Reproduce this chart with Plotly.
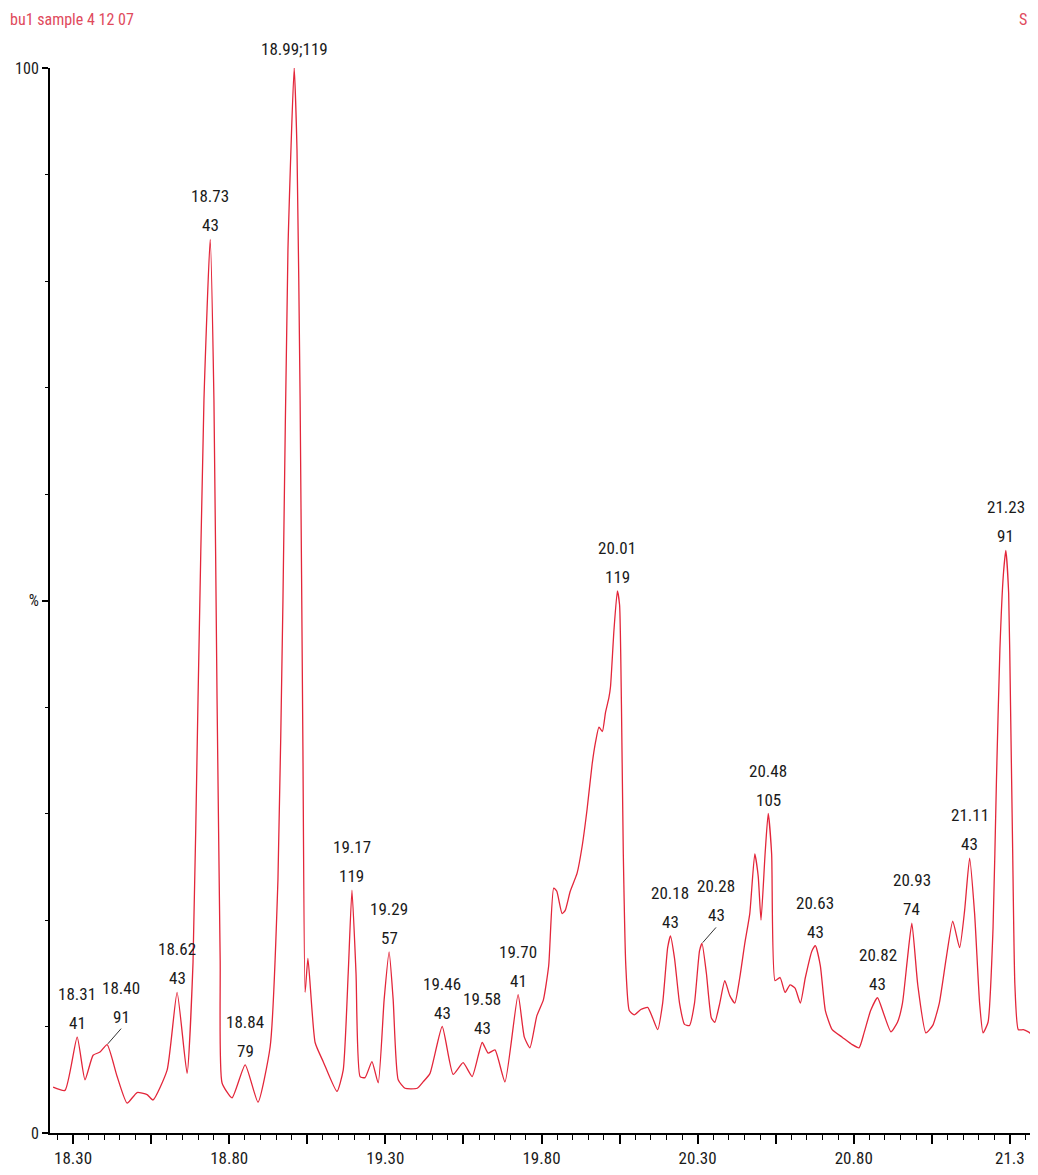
import numpy as np
import plotly.graph_objects as go

# ---------------- data ----------------
rt = [18.236, 18.274, 18.313, 18.338, 18.364, 18.386, 18.409, 18.441, 18.473, 18.505,
      18.537, 18.556, 18.601, 18.633, 18.665, 18.684, 18.700, 18.719, 18.739, 18.751,
      18.761, 18.771, 18.777, 18.809, 18.851, 18.892, 18.931, 18.956, 18.972, 18.988,
      19.008, 19.017, 19.027, 19.036, 19.043, 19.052, 19.075, 19.101, 19.145, 19.165,
      19.181, 19.193, 19.206, 19.219, 19.235, 19.257, 19.277, 19.296, 19.312, 19.325,
      19.341, 19.363, 19.402, 19.421, 19.443, 19.482, 19.517, 19.549, 19.578, 19.610,
      19.629, 19.651, 19.683, 19.725, 19.745, 19.763, 19.785, 19.806, 19.823, 19.839,
      19.849, 19.866, 19.876, 19.892, 19.914, 19.930, 19.946, 19.962, 19.973, 19.984,
      19.995, 20.005, 20.016, 20.021, 20.032, 20.043, 20.050, 20.056, 20.062, 20.070,
      20.081, 20.097, 20.118, 20.140, 20.156, 20.172, 20.188, 20.204, 20.213, 20.226,
      20.242, 20.258, 20.274, 20.290, 20.306, 20.314, 20.328, 20.344, 20.355, 20.371,
      20.387, 20.403, 20.419, 20.435, 20.451, 20.467, 20.483, 20.494, 20.503, 20.516,
      20.526, 20.537, 20.548, 20.564, 20.580, 20.596, 20.612, 20.629, 20.645, 20.666,
      20.677, 20.693, 20.709, 20.731, 20.763, 20.795, 20.817, 20.833, 20.854, 20.876,
      20.897, 20.919, 20.940, 20.956, 20.972, 20.986, 21.005, 21.031, 21.053, 21.074,
      21.096, 21.117, 21.139, 21.155, 21.171, 21.187, 21.203, 21.214, 21.230, 21.246,
      21.257, 21.268, 21.279, 21.287, 21.296, 21.302, 21.309, 21.316, 21.327, 21.343,
      21.359, 21.375, 21.391]

intensity = [4.3, 4.0, 9.0, 5.0, 7.3, 7.6, 8.3, 5.3, 2.8, 3.8,
             3.6, 3.1, 5.9, 13.2, 5.6, 16.0, 40.7, 68.8, 83.9, 68.8,
             40.7, 16.2, 4.7, 3.3, 6.4, 2.9, 8.1, 23.8, 50.0, 82.9,
             100.0, 92.3, 68.8, 36.0, 13.2, 16.4, 8.5, 6.7, 3.9, 5.9,
             15.0, 22.8, 15.0, 5.3, 5.2, 6.7, 4.7, 12.5, 17.0, 12.5,
             5.0, 4.2, 4.2, 4.8, 5.6, 10.0, 5.5, 6.6, 5.3, 8.5,
             7.5, 7.8, 4.8, 13.0, 9.0, 8.0, 11.0, 12.5, 15.7, 23.0,
             22.7, 20.6, 20.9, 22.7, 24.4, 26.9, 30.4, 34.6, 36.7, 38.1,
             37.7, 39.5, 40.9, 41.9, 47.2, 50.9, 49.6, 40.2, 26.2, 15.7,
             11.5, 11.1, 11.6, 11.8, 10.8, 9.7, 12.2, 17.4, 18.5, 16.4,
             12.2, 10.2, 10.1, 12.2, 17.1, 17.8, 15.0, 10.8, 10.4, 12.2,
             14.3, 12.9, 12.2, 14.6, 17.8, 20.6, 26.2, 24.1, 20.0, 26.2,
             30.0, 26.2, 14.3, 14.6, 13.2, 13.9, 13.6, 12.2, 14.6, 17.1,
             17.6, 15.7, 11.5, 9.7, 9.0, 8.3, 8.0, 9.4, 11.5, 12.7,
             11.1, 9.5, 10.4, 12.2, 16.4, 19.7, 13.9, 9.4, 10.1, 12.2,
             16.4, 19.9, 17.4, 20.9, 25.8, 20.6, 12.2, 9.4, 10.4, 19.2,
             33.2, 45.4, 52.4, 54.7, 50.7, 40.2, 26.2, 13.9, 9.7, 9.7,
             9.5, 9.2, 11.1]

# peak labels: retention time text, base m/z text, apex time of the drawn peak
peak_rt_text = ["18.31", "18.40", "18.62", "18.73", "18.84", "18.99", "19.17", "19.29",
                "19.46", "19.58", "19.70", "20.01", "20.18", "20.28", "20.48", "20.63",
                "20.82", "20.93", "21.11", "21.23"]
peak_mz_text = ["41", "91", "43", "43", "79", "119", "119", "57",
                "43", "43", "41", "119", "43", "43", "105", "43",
                "43", "74", "43", "91"]
peak_apex_rt = [18.313, 18.409, 18.633, 18.739, 18.851, 19.008, 19.193, 19.312,
                19.482, 19.610, 19.725, 20.043, 20.213, 20.314, 20.526, 20.677,
                20.876, 20.986, 21.171, 21.287]
leader_peaks = ["18.40", "20.28"]
inline_peaks = ["18.99"]

x_tick_vals = [18.30, 18.55, 18.80, 19.05, 19.30, 19.55, 19.80, 20.05, 20.30, 20.55,
               20.80, 21.05, 21.30]
x_tick_text = ["18.30", "", "18.80", "", "19.30", "", "19.80", "", "20.30", "",
               "20.80", "", "21.3"]
y_tick_vals = [0, 50, 100]
y_tick_text = ["0", "%", "100"]

title_text = "bu1 sample 4 12 07"
corner_text = "S"

# ---------------- figure ----------------
# (the page body has an 8px default margin, so the figure is sized to fit the window)
FONT = "Liberation Sans Narrow, Arial Narrow, Roboto Condensed, Roboto, sans-serif"
RED = "#e3263a"
LABEL_FONT = dict(family=FONT, size=17, color="#1a1a1a")
LINE_GAP = 29  # vertical distance between the two label lines (px)

fig = go.Figure()
fig.add_trace(go.Scatter(x=rt, y=intensity, mode="lines",
                         line=dict(color=RED, width=1.3, shape="spline", smoothing=0.5),
                         hoverinfo="skip"))

apex_y = np.interp(peak_apex_rt, rt, intensity)
annotations = []
for txt, mz, xa, ya in zip(peak_rt_text, peak_mz_text, peak_apex_rt, apex_y):
    base = dict(x=xa, y=float(ya), xref="x", yref="y", font=LABEL_FONT,
                xanchor="center", yanchor="bottom")
    if txt in inline_peaks:
        annotations.append(dict(base, text=f"{txt};{mz}", showarrow=False, yshift=7))
    elif txt in leader_peaks:
        annotations.append(dict(base, text=mz, showarrow=True, arrowhead=0,
                                arrowwidth=1, arrowcolor="#333333",
                                ax=14, ay=-16, standoff=1))
        annotations.append(dict(base, text=txt, showarrow=False,
                                xshift=14, yshift=16 + LINE_GAP))
    else:
        annotations.append(dict(base, text=mz, showarrow=False, yshift=2))
        annotations.append(dict(base, text=txt, showarrow=False, yshift=2 + LINE_GAP))

annotations.append(dict(text=title_text, xref="paper", yref="paper", x=0, y=1,
                        xanchor="left", yanchor="top", xshift=-42, yshift=60,
                        showarrow=False, font=dict(family=FONT, size=16, color="#e04a5c")))
annotations.append(dict(text=corner_text, xref="paper", yref="paper", x=1, y=1,
                        xanchor="right", yanchor="top", xshift=-9, yshift=60,
                        showarrow=False, font=dict(family=FONT, size=16, color="#e04a5c")))

fig.update_layout(
    width=1030, height=1159,
    margin=dict(l=42, r=0, t=60, b=34, pad=0),
    paper_bgcolor="white", plot_bgcolor="white",
    showlegend=False,
    annotations=annotations,
    xaxis=dict(range=[18.226, 21.390], automargin=False, showline=True,
               linecolor="black", linewidth=2,
               ticks="outside", ticklen=9, tickwidth=1.5, tickcolor="black",
               tickvals=x_tick_vals, ticktext=x_tick_text,
               tickfont=dict(family=FONT, size=17, color="#1a1a1a"),
               minor=dict(tick0=18.30, dtick=0.05, ticks="outside", ticklen=5,
                          tickwidth=1, tickcolor="black"),
               showgrid=False, zeroline=False),
    yaxis=dict(range=[0, 100], automargin=False, showline=True,
               linecolor="black", linewidth=2,
               ticks="outside", ticklen=6, tickwidth=1.5, tickcolor="black",
               tickvals=y_tick_vals, ticktext=y_tick_text,
               tickfont=dict(family=FONT, size=16, color="#1a1a1a"),
               minor=dict(dtick=10, ticks="outside", ticklen=3, tickwidth=1,
                          tickcolor="black"),
               showgrid=False, zeroline=False),
)

fig.write_html("out.html")
